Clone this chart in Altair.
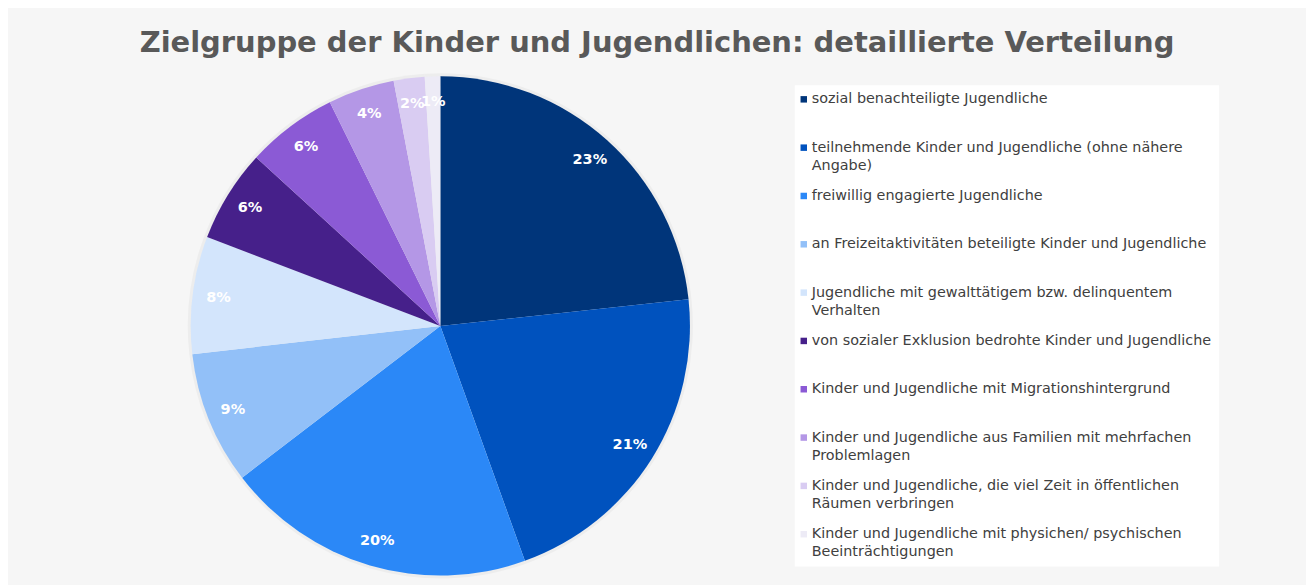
import altair as alt
import pandas as pd

categories = [
    "sozial benachteiligte Jugendliche",
    "teilnehmende Kinder und Jugendliche (ohne nähere\nAngabe)",
    "freiwillig engagierte Jugendliche",
    "an Freizeitaktivitäten beteiligte Kinder und Jugendliche",
    "Jugendliche mit gewalttätigem bzw. delinquentem\nVerhalten",
    "von sozialer Exklusion bedrohte Kinder und Jugendliche",
    "Kinder und Jugendliche mit Migrationshintergrund",
    "Kinder und Jugendliche aus Familien mit mehrfachen\nProblemlagen",
    "Kinder und Jugendliche, die viel Zeit in öffentlichen\nRäumen verbringen",
    "Kinder und Jugendliche mit physichen/ psychischen\nBeeinträchtigungen",
]
values = [23.3, 21.2, 20.1, 8.6, 7.6, 6.0, 5.9, 4.3, 2.0, 1.0]
colors = ["#00357A", "#0052BE", "#2B88F7", "#92C0F8", "#D3E5FC",
          "#46208A", "#8B5AD5", "#B497E6", "#D9CCF2", "#EDEBF6"]

df = pd.DataFrame({
    "Kategorie": categories,
    "Wert": values,
    "idx": list(range(len(categories))),
})

color_scale = alt.Scale(domain=categories, range=colors)

theta = alt.Theta("Wert:Q", stack=True)
order = alt.Order("idx:Q", sort="ascending")
color = alt.Color("Kategorie:N", scale=color_scale, legend=None)

shadow = alt.Chart().mark_arc(
    outerRadius=253, color="#000000", opacity=0.035
).encode(theta=theta, order=order, detail="Kategorie:N")

pie = alt.Chart().mark_arc(outerRadius=250).encode(
    theta=theta, order=order, color=color
)
labels = alt.Chart().mark_text(
    radius=224, color="white", fontSize=14.5, fontWeight="bold",
    font="DejaVu Sans"
).encode(
    theta=theta, order=order, detail="Kategorie:N",
    text=alt.Text("anteil:Q", format=".0%"),
)

pie_chart = alt.layer(shadow, pie, labels, data=df).transform_joinaggregate(
    total="sum(Wert)"
).transform_calculate(
    anteil="datum.Wert / datum.total"
).properties(width=520, height=510)

yscale = alt.Scale(domain=[-0.29, 9.67], reverse=True)
leg_sym = alt.Chart(df).mark_square(size=42, opacity=1).encode(
    x=alt.value(9),
    y=alt.Y("idx:Q", scale=yscale, axis=None),
    color=color,
)
leg_txt = alt.Chart(df).mark_text(
    align="left", baseline="top", dy=-7, lineBreak="\n",
    fontSize=14.4, color="#404040", font="DejaVu Sans", lineHeight=18
).encode(
    x=alt.value(17),
    y=alt.Y("idx:Q", scale=yscale, axis=None),
    text="Kategorie:N",
)
legend_chart = alt.layer(leg_sym, leg_txt).properties(
    width=425, height=482,
    view=alt.ViewBackground(fill="white", stroke=None),
)

chart = alt.hconcat(pie_chart, legend_chart, spacing=95, center=True).properties(
    title=alt.TitleParams(
        "Zielgruppe der Kinder und Jugendlichen: detaillierte Verteilung",
        fontSize=29, font="DejaVu Sans", fontWeight="bold", color="#595959",
        anchor="middle", offset=13, dx=-43,
    ),
    padding={"left": 131, "top": 21, "right": 87, "bottom": 4},
    background="#F6F6F6",
).configure_view(stroke=None)

chart.save("out.html", embed_options={"renderer": "svg", "actions": False})
